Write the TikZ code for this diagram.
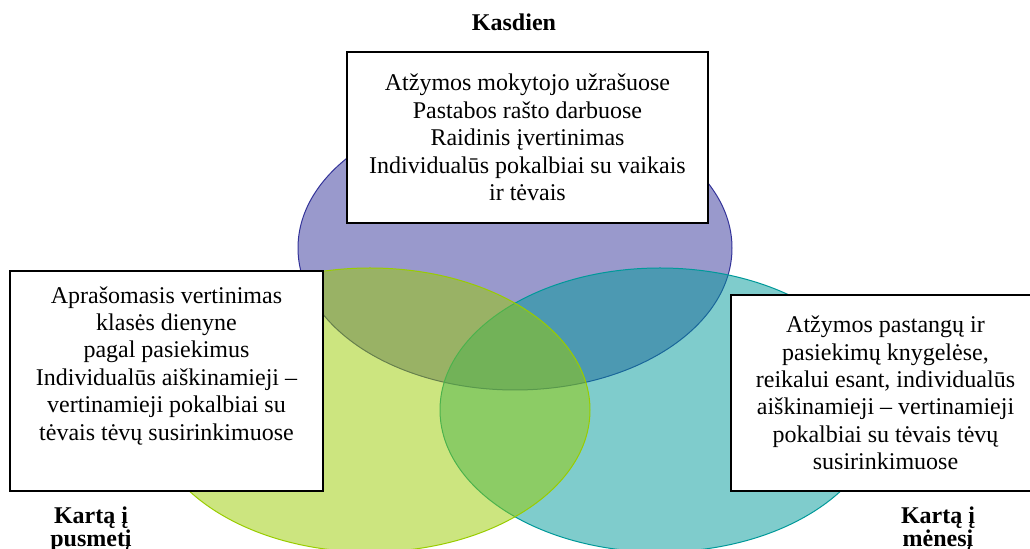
\documentclass[tikz,border=0pt]{standalone}
\usepackage{fontspec}
\setmainfont{Liberation Serif}
\definecolor{venn_purple}{RGB}{51,51,153}
\definecolor{venn_green}{RGB}{153,204,0}
\definecolor{venn_teal}{RGB}{0,153,153}
\tikzstyle{set_purple} = [draw=venn_purple, fill=venn_purple, fill opacity=0.5, line width=0.5pt]
\tikzstyle{set_green} = [draw=venn_green, fill=venn_green, fill opacity=0.5, line width=0.5pt]
\tikzstyle{set_teal} = [draw=venn_teal, fill=venn_teal, fill opacity=0.5, line width=0.5pt]
\tikzstyle{text_box} = [rectangle, draw, line width=1pt, fill=white, align=center, inner sep=0pt, font=\fontsize{12}{13.7}\selectfont]
\tikzstyle{period_label} = [align=center, inner sep=0pt, font=\fontsize{12}{11.5}\selectfont\bfseries]

\begin{document}
\begin{tikzpicture}[x=0.5pt, y=-0.5pt]
		\useasboundingbox (0,0) rectangle (1030,549);
		\clip (0,0) rectangle (1030,549);
		% three sets
		\draw[set_purple] (515,248) ellipse [x radius=217, y radius=142];
		\draw[set_teal] (660,410) ellipse [x radius=220, y radius=142];
		\draw[set_green] (370,410) ellipse [x radius=220, y radius=142];
		% boxes
		\node (daily) at (527.5,137.5) [text_box, minimum width=180.5pt, minimum height=85.5pt] {Atžymos mokytojo užrašuose\\ Pastabos rašto darbuose\\ Raidinis įvertinimas\\ Individualūs pokalbiai su vaikais\\ ir tėvais};
		\node (halfyear) at (166.5,381) [text_box, minimum width=156.5pt, minimum height=110pt] {Aprašomasis vertinimas\\ klasės dienyne\\ pagal pasiekimus\\ Individualūs aiškinamieji --\\ vertinamieji pokalbiai su\\ tėvais tėvų susirinkimuose\\ \strut};
		\node (monthly) at (885.5,393) [text_box, minimum width=154.5pt, minimum height=98pt] {Atžymos pastangų ir\\ pasiekimų knygelėse,\\ reikalui esant, individualūs\\ aiškinamieji -- vertinamieji\\ pokalbiai su tėvais tėvų\\ susirinkimuose};
		% labels
		\node (daily_label) at (514,31) [period_label, anchor=base] {Kasdien};
		\node (halfyear_label) at (91,506) [period_label, anchor=north] {Kartą į\\ pusmetį};
		\node (monthly_label) at (938,506) [period_label, anchor=north] {Kartą į\\ mėnesį};
\end{tikzpicture}
\end{document}
